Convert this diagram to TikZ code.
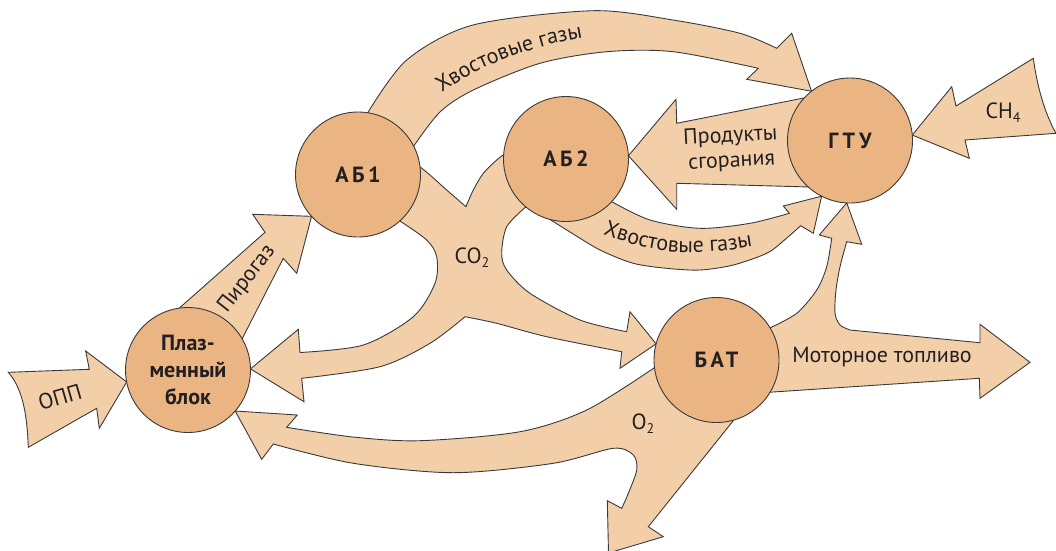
\documentclass[tikz,border=0pt]{standalone}
\usepackage{fontspec}
\setmainfont{PT Sans}
\newfontfamily\labelfont{PT Sans}[LetterSpace=16]
\usetikzlibrary{decorations.text}
\pgfdeclarelayer{bg}
\pgfsetlayers{bg,main}
\definecolor{flow}{HTML}{F3CFA9}
\definecolor{blobfill}{HTML}{EBB583}
\definecolor{edgec}{HTML}{3A3A3A}
\definecolor{textc}{HTML}{231F20}
\newcommand\subsc[1]{\raisebox{-0.35ex}{\fontsize{14}{14}\selectfont #1}}
\begin{document}
\begin{tikzpicture}[x=1pt,y=-1pt,
  blob/.style={circle, draw=edgec, line width=0.9pt, fill=blobfill, minimum size=125pt,
    inner sep=0pt, outer sep=0pt, align=center, text=textc,
    font=\labelfont\bfseries\fontsize{22}{26.7}\selectfont},
  flowshape/.style={draw=edgec, fill=flow, line width=0.9pt, line join=miter},
  lbl/.style={font=\fontsize{22}{25}\selectfont, text=textc, inner sep=0pt},
  alongtext/.style={decorate, decoration={text along path, text align=center,
    text color=textc, text={|\fontsize{22}{25}\selectfont|#1}}}
]
\useasboundingbox (0,0) rectangle (1056,550);

% nodes
\node[blob, font=\rmfamily\bfseries\fontsize{22}{26.7}\selectfont] (pb) at (188,370) {Плаз-\\менный\\блок};
\node[blob] (ab1) at (358,174.5) {АБ1};
\node[blob] (ab2) at (566,159) {АБ2};
\node[blob] (gtu) at (850,140.5) {ГТУ};
\node[blob] (bat) at (716.5,360) {БАТ};

\begin{pgfonlayer}{bg}
% OPP
\draw[flowshape] (8.3,372.3) -- (89.3,369.3) -- (85.7,351) -- (pb.191.2) -- (99.3,428.3)
  -- (96.7,408.3) -- (28.3,447.3) .. controls (27,412) and (22,388) .. (8.3,372.3) -- cycle;
% Pirogaz
\draw[flowshape] (pb.98.2) -- (265,232.3) -- (252.7,214.3) -- (ab1.222.5) -- (296.7,273.3)
  -- (283.3,258.3) -- (pb.30.6) -- cycle;
% upper tail gases AB1 -> GTU
\draw[flowshape] (ab1.81.8) -- plot[smooth] coordinates {(ab1.81.8) (406.7,60) (473,25) (593,10.7) (673,20) (740,33.3) (776.7,48.3)}
  -- (791.7,33.3) -- (gtu.128) -- (746.7,79.3)
  -- plot[smooth] coordinates {(758.3,68.3) (673.3,51.7) (606.7,51.7) (540,63.3) (473.3,90) (440,112) (ab1.27.9)} -- cycle;
% combustion products GTU -> AB2
\draw[flowshape] (gtu.137.5) -- (676.7,123.3) -- (676,99.3) -- (ab2.3.7) -- (676.7,209.3)
  -- (676.7,183.3) -- (gtu.228) -- cycle;
% lower tail gases AB2 -> GTU
\draw[flowshape] (ab2.-43) -- plot[smooth] coordinates {(ab2.-43) (650,220) (700,228.3) (750,223.3) (789.3,213.3)}
  -- (783.3,206) -- (gtu.243.8) -- (813.3,233.3)
  -- plot[smooth] coordinates {(800.7,225.7) (783.3,241) (766.7,253.3) (733.3,265) (700,270) (666.7,268.3) (633.3,263.3) (600,250) (570,232) (ab2.255.3)} -- cycle;
% CH4
\draw[flowshape] (gtu.5) -- (951.7,86.7) -- (956,106) -- (1033.3,58.3)
  .. controls (1037,85) and (1044,112) .. (1056,133.3) -- (965,140) -- (969.3,158.3) -- cycle;
% CO2 cross
\draw[flowshape] (ab1.7.1)
  -- plot[smooth] coordinates {(ab1.7.1) (430,175) (446.7,190) (466,206.7)}
  -- plot[smooth] coordinates {(466,206.7) (473.3,190) (483.3,173.3) (496.7,160) (ab2.176.3)}
  -- (ab2.230.9)
  -- plot[smooth] coordinates {(ab2.230.9) (506.7,226.7) (501.7,253.3) (506.7,270) (530,293.3) (580,320) (626.7,331.7)}
  -- (630,311.7) -- (bat.165.9) -- (620,368.3)
  -- plot[smooth] coordinates {(621.7,351.7) (546.7,336.7) (496.7,323.3) (465,316.7)}
  -- plot[smooth] coordinates {(465,316.7) (430,343.3) (380,366.7) (301.7,378.3)}
  -- (304,401.7) -- (pb.1.5) -- (298.3,329.3)
  -- plot[smooth] coordinates {(300,352.5) (363.3,345) (413.3,316.7) (435,283.3) (436.7,256.7) (426.7,240) (ab1.-48.1)}
  -- cycle;
% BAT outputs
\draw[flowshape] (bat.31.6)
  -- plot[smooth] coordinates {(bat.31.6) (796.7,313.3) (816.7,290) (826.7,266.7) (831.7,238.3)}
  -- (819.3,235) -- (gtu.267) -- (861.7,244.3)
  -- plot[smooth] coordinates {(846.7,241.7) (840,266.7) (836,290) (835,313.3) (840,325) (850,330)}
  -- (980,342.7) -- (980,324.3) -- (1030,362.3) -- (980,398.3) -- (979.3,378.3) -- (bat.-31.9) -- cycle;
% O2
\draw[flowshape] (bat.187.6)
  -- plot[smooth] coordinates {(bat.187.6) (586.7,410) (520,431.7) (420,440.7) (353,437) (286.7,427.3)}
  -- (297.3,415) -- (pb.-41.6) -- (261.7,459.3)
  -- plot[smooth] coordinates {(273.3,444) (353.3,463.3) (453.3,472.7) (553.3,463.3) (613.3,448.3) (633.3,455) (636.7,470) (628.3,493.3) (621.7,508.3)}
  -- (607.3,500.7) -- (608.5,553) -- (663.3,536.7) -- (648.3,526.7) -- (bat.-74.4) -- cycle;
\end{pgfonlayer}

% labels
\node[lbl, rotate=16] (lopp) at (60,397) {ОПП};
\node[lbl, rotate=52] (lpg) at (247,279) {Пирогаз};
\node[lbl, rotate=3, align=center] (lprod) at (731,149) {Продукты\\сгорания};
\node[lbl] (lch) at (1003,113) {CH\subsc{4}};
\node[lbl] (lco) at (472,258) {CO\subsc{2}};
\node[lbl] (lo) at (643,424) {O\subsc{2}};
\node[lbl] (lmot) at (882,357) {Моторное топливо};
\path[alongtext={Хвостовые газы}] plot[smooth] coordinates {(395,135) (420,112) (443,92) (475,72) (510,57) (548,45) (583,38) (612,32) (645,29)};
\path[alongtext={Хвостовые газы}] plot[smooth] coordinates {(548,205) (570,218) (597,232) (640,246) (678,252) (720,251) (760,245) (788,238) (812,228)};
\end{tikzpicture}
\end{document}
